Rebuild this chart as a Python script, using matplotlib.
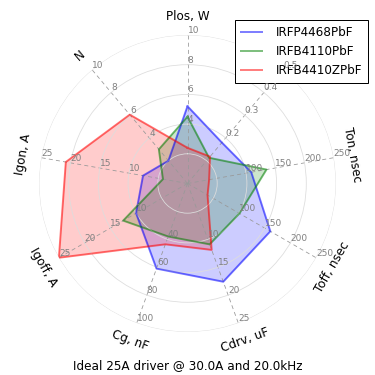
import numpy as np
import matplotlib
matplotlib.use("Agg")
import matplotlib.pyplot as plt

# axis order: clockwise from the top
variables = ['Plos, W', '', 'Ton, nsec', 'Toff, nsec', 'Cdrv, uF',
             'Cg, nF', 'Igoff, A', 'Igon, A', 'N']
maxima = [10, 0.5, 250, 250, 25, 100, 25, 25, 10]
levels = [[2, 4, 6, 8, 10],
          [0.1, 0.2, 0.3, 0.4, 0.5],
          [50, 100, 150, 200, 250],
          [50, 100, 150, 200, 250],
          [5, 10, 15, 20, 25],
          [20, 40, 60, 80, 100],
          [5, 10, 15, 20, 25],
          [5, 10, 15, 20, 25],
          [2, 4, 6, 8, 10]]

names = ['IRFP4468PbF', 'IRFB4110PbF', 'IRFB4410ZPbF']
irfp4468 = [5.2, 0.18, 109, 161, 17.6, 61, 10.0, 7.6, 2.0]
irfb4110 = [4.5, 0.113, 135, 101, 10.9, 38, 12.5, 4.2, 3.0]
irfb4410z = [2.4, 0.118, 37, 39, 11.9, 43.6, 25, 20.8, 6.05]
colors = ['b', 'g', 'r']

title = 'Ideal 25A driver @ 30.0A and 20.0kHz'

n = len(variables)
angles = np.arange(0, 360, 360.0 / n)
theta = np.deg2rad(np.r_[angles, angles[0]])

fig = plt.figure(figsize=(375 / 72, 375 / 72), dpi=72)
rect = [0.104, 0.1147, 0.792, 0.792]

ax = fig.add_axes(rect, polar=True, label='main')
ax.set_theta_zero_location('N')
ax.set_theta_direction(-1)
ax.set_ylim(0, 1)
ax.set_thetagrids(angles, labels=[''] * n)
ax.set_rgrids([0.2, 0.4, 0.6, 0.8, 1.0], labels=[''] * 5)
ax.xaxis.grid(True, color='#999999', linestyle='--', linewidth=0.8, dashes=(5, 4))
ax.yaxis.grid(True, color='#dddddd', linestyle='-', linewidth=0.8)
ax.spines['polar'].set_visible(False)

# variable names round the outside
for ang, var in zip(angles, variables):
    a = (90 - ang + 180) % 360 - 180
    rot = a - 90 if a >= 0 else a + 90
    ax.text(np.deg2rad(ang), 1.125, var, rotation=rot, ha='center',
            va='center', fontsize=12, rotation_mode='anchor')

for name, vals, c in zip(names, [irfp4468, irfb4110, irfb4410z], colors):
    sdata = np.array(vals) / np.array(maxima)
    sdata = np.r_[sdata, sdata[0]]
    ax.plot(theta, sdata, color=c, alpha=0.5, linewidth=2, label=name)
    ax.fill(theta, sdata, color=c, alpha=0.2)

ax.legend(loc='upper right', bbox_to_anchor=(368 / 375, 355 / 375),
          bbox_transform=fig.transFigure, borderaxespad=0, fontsize=12,
          fancybox=False, edgecolor='black', framealpha=1,
          handlelength=1.8, handletextpad=1.1, borderpad=0.5)

# one extra axes per variable, only for its own radial scale
for i in range(n):
    ax2 = fig.add_axes(rect, polar=True, label='axes%d' % i)
    ax2.set_theta_zero_location('N')
    ax2.set_theta_direction(-1)
    ax2.patch.set_visible(False)
    ax2.spines['polar'].set_visible(False)
    ax2.xaxis.set_visible(False)
    ax2.set_ylim(0, maxima[i])
    lbls = ['{:g}'.format(v) for v in levels[i]]
    lbls[0] = ''
    ax2.set_rgrids(levels[i], labels=lbls, angle=angles[i],
                   color='gray', fontsize=9)
    ax2.grid(False)

fig.text(0.5, 9 / 375, title, ha='center', va='center', fontsize=12)

fig.savefig('out.png', dpi=72)
